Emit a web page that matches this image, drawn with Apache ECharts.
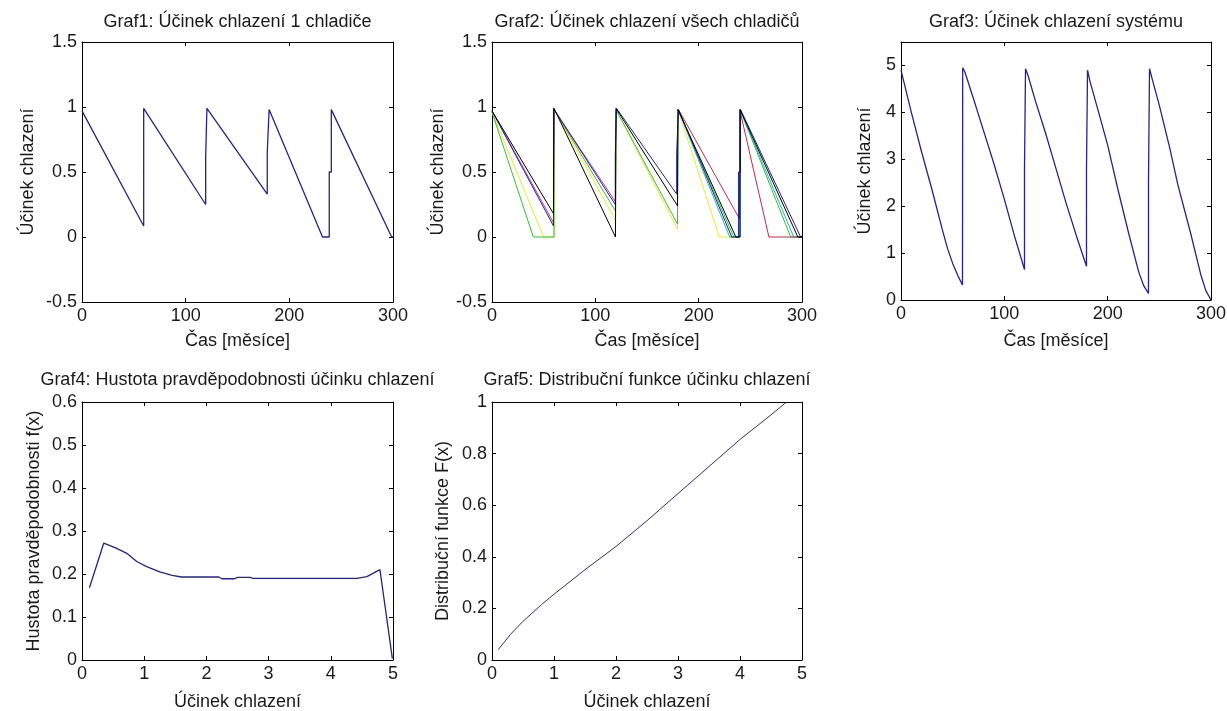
<!DOCTYPE html>
<html>
<head>
<meta charset="utf-8">
<title>Účinek chlazení</title>
<script src="https://cdn.jsdelivr.net/npm/echarts@6/dist/echarts.min.js"></script>
<style>
    html, body { margin: 0; padding: 0; background: #fff; }
    #chart { width: 1227px; height: 711px; }
</style>
</head>
<body>
<div id="chart"></div>
<script>
// Graf1: účinek chlazení 1 chladiče  [čas, účinek]
const graf1Points = [
    [0, 0.97], [59.5, 0.085], [59.5, 0.99], [60, 0.99], [119.3, 0.25], [119.3, 0.62],
    [120.5, 0.62], [120.5, 0.99], [178.7, 0.33], [178.7, 0.65], [180.5, 0.65],
    [180.5, 0.98], [232, 0], [238.5, 0], [238.5, 0.5], [240.5, 0.5], [240.5, 0.98],
    [298.7, 0], [300, 0]
];

// Graf2: účinek všech chladičů, jedna řada na barvu
const graf2Yellow = [
    [0, 0.96], [50, 0], [60, 0], [60, 0.98], [119.5, 0.13], [120, 0.13], [120, 0.98],
    [179.5, 0.06], [180, 0.06], [180, 0.98], [220, 0], [240, 0]
];
const graf2Green = [
    [0, 0.96], [40, 0], [60, 0], [60, 0.98], [119.5, 0.2], [120, 0.2], [120, 0.98],
    [179.5, 0.1], [180, 0.1], [180, 0.98], [234, 0], [240, 0], [240, 0.98], [289, 0], [300, 0]
];
const graf2Cyan = [
    [180, 0.98], [230, 0], [240, 0], [240, 0.98], [292, 0], [300, 0]
];
const graf2Red = [
    [180.5, 0.98], [239.5, 0.14], [240, 0.14], [240, 0.97], [268, 0], [300, 0]
];
const graf2Magenta = [
    [0, 0.97], [59.5, 0.11], [60, 0.11], [60, 0.98], [119.5, 0.27], [120, 0.27]
];
const graf2Black = [
    [0, 0.97], [59.5, 0.18], [60, 0.18], [60, 0.99], [119.5, 0], [120, 0], [120, 0.99],
    [179.5, 0.24], [180, 0.24], [180, 0.98], [236, 0], [240, 0], [240, 0.98], [296, 0], [300, 0]
];

// Graf3: účinek chlazení systému
const graf3Points = [
    [0, 4.9], [10, 4.0], [20, 3.15], [30, 2.35], [40, 1.5], [45, 1.1], [50, 0.78],
    [55, 0.52], [59.5, 0.32], [59.7, 4.95], [62, 4.85], [70, 4.3], [80, 3.6], [90, 2.9],
    [100, 2.15], [110, 1.35], [119.5, 0.65], [119.5, 2.8], [120.5, 2.8], [120.5, 4.93],
    [123, 4.78], [130, 4.25], [140, 3.55], [150, 2.8], [160, 2.05], [170, 1.35],
    [179.5, 0.72], [179.5, 2.8], [180.5, 2.8], [180.5, 4.9], [183, 4.65], [190, 4.1],
    [200, 3.3], [210, 2.35], [220, 1.45], [230, 0.6], [235, 0.3], [239.5, 0.14],
    [239.5, 2.53], [240.5, 2.53], [240.5, 4.93], [243, 4.72], [250, 4.15], [260, 3.25],
    [268, 2.45], [280, 1.45], [290, 0.55], [295, 0.2], [300, 0]
];

// Graf4: hustota pravděpodobnosti f(x)
const graf4Points = [
    [0.12, 0.168], [0.35, 0.272], [0.55, 0.26], [0.72, 0.248], [0.88, 0.229], [1.04, 0.217],
    [1.25, 0.205], [1.45, 0.197], [1.6, 0.193], [2.2, 0.193], [2.25, 0.189], [2.45, 0.189],
    [2.5, 0.192], [2.7, 0.192], [2.75, 0.19], [4.42, 0.19], [4.58, 0.194], [4.79, 0.21],
    [4.99, 0.003]
];

// Graf5: distribuční funkce F(x)
const graf5Points = [
    [0.1, 0.04], [0.3, 0.1], [0.5, 0.15], [0.8, 0.215], [1.0, 0.255], [1.5, 0.35],
    [2.0, 0.44], [2.5, 0.54], [3.0, 0.645], [3.5, 0.75], [4.0, 0.855], [4.5, 0.95], [4.75, 1.0]
];

// rozsahy os [min, max, krok]
const casAxis = [0, 300, 100];
const ucinekAxis = [-0.5, 1.5, 0.5];
const systemAxis = [0, 5.5, 1];
const xAxis45 = [0, 5, 1];
const hustotaAxis = [0, 0.6, 0.1];
const distribAxis = [0, 1, 0.2];

const FONT = '"Liberation Sans", Arial, sans-serif';
const TEXT = '#1a1a1a';

const chart = echarts.init(document.getElementById('chart'), null, { renderer: 'canvas' });

function makeAxis(grid, pos, range, name, gap, extra) {
    const main = pos === 'bottom' || pos === 'left';
    return Object.assign({
        type: 'value',
        gridIndex: grid,
        position: pos,
        min: range[0],
        max: range[1],
        interval: range[2],
        name: main ? name : '',
        nameLocation: 'middle',
        nameGap: gap,
        nameMoveOverlap: false,
        nameTextStyle: { fontFamily: FONT, fontSize: 18, color: TEXT },
        axisLine: { show: true, onZero: false, lineStyle: { color: '#000', width: 1 } },
        axisTick: { show: true, inside: true, length: 4, lineStyle: { color: '#000', width: 1 } },
        axisLabel: {
            show: main,
            margin: 5,
            fontFamily: FONT,
            fontSize: 18,
            color: TEXT,
            showMinLabel: true,
            showMaxLabel: true,
            hideOverlap: false
        },
        splitLine: { show: false }
    }, extra || {});
}

function title(text, x, y) {
    return {
        text: text,
        left: x,
        top: y,
        textAlign: 'center',
        padding: 0,
        textStyle: { fontFamily: FONT, fontSize: 18, fontWeight: 'normal', color: TEXT }
    };
}

function line(points, grid, color, width) {
    return {
        type: 'line',
        xAxisIndex: grid,
        yAxisIndex: grid,
        data: points,
        symbol: 'none',
        showSymbol: false,
        clip: true,
        lineStyle: { color: color, width: width },
        itemStyle: { color: color },
        emphasis: { disabled: true },
        animation: false
    };
}

const option = {
    backgroundColor: '#fff',
    animation: false,
    title: [
        title('Graf1: Účinek chlazení 1 chladiče', 237.5, 13),
        title('Graf2: Účinek chlazení všech chladičů', 647, 13),
        title('Graf3: Účinek chlazení systému', 1056, 13),
        title('Graf4: Hustota pravděpodobnosti účinku chlazení', 237.5, 371),
        title('Graf5: Distribuční funkce účinku chlazení', 647, 371)
    ],
    grid: [
        { left: 82, top: 42, width: 311, height: 260, containLabel: false, outerBoundsMode: 'none' },
        { left: 492, top: 42, width: 310, height: 260, containLabel: false, outerBoundsMode: 'none' },
        { left: 901, top: 42, width: 310, height: 258, containLabel: false, outerBoundsMode: 'none' },
        { left: 82, top: 402, width: 311, height: 258, containLabel: false, outerBoundsMode: 'none' },
        { left: 492, top: 402, width: 310, height: 258, containLabel: false, outerBoundsMode: 'none' }
    ],
    xAxis: [
        makeAxis(0, 'bottom', casAxis, 'Čas [měsíce]', 30),
        makeAxis(1, 'bottom', casAxis, 'Čas [měsíce]', 30),
        makeAxis(2, 'bottom', casAxis, 'Čas [měsíce]', 32),
        makeAxis(3, 'bottom', xAxis45, 'Účinek chlazení', 33),
        makeAxis(4, 'bottom', xAxis45, 'Účinek chlazení', 33),
        makeAxis(0, 'top', casAxis),
        makeAxis(1, 'top', casAxis),
        makeAxis(2, 'top', casAxis),
        makeAxis(3, 'top', xAxis45),
        makeAxis(4, 'top', xAxis45)
    ],
    yAxis: [
        makeAxis(0, 'left', ucinekAxis, 'Účinek chlazení', 45),
        makeAxis(1, 'left', ucinekAxis, 'Účinek chlazení', 45),
        makeAxis(2, 'left', systemAxis, 'Účinek chlazení', 27, {
            axisLabel: { show: true, margin: 5, fontFamily: FONT, fontSize: 18, color: TEXT, showMinLabel: true, showMaxLabel: false }
        }),
        makeAxis(3, 'left', hustotaAxis, 'Hustota pravděpodobnosti f(x)', 39),
        makeAxis(4, 'left', distribAxis, 'Distribuční funkce F(x)', 40),
        makeAxis(0, 'right', ucinekAxis),
        makeAxis(1, 'right', ucinekAxis),
        makeAxis(2, 'right', systemAxis),
        makeAxis(3, 'right', hustotaAxis),
        makeAxis(4, 'right', distribAxis)
    ],
    series: [
        line(graf1Points, 0, '#23238f', 1.3),

        line(graf2Yellow, 1, '#eeea2a', 1),
        line(graf2Green, 1, '#2fc42f', 1),
        line(graf2Cyan, 1, '#22b8c8', 1),
        line(graf2Red, 1, '#c8284a', 1),
        line(graf2Magenta, 1, '#c030c0', 1),
        line(graf1Points, 1, '#23238f', 1),
        line(graf2Black, 1, '#000000', 1),

        line(graf3Points, 2, '#23238f', 1.3),
        line(graf4Points, 3, '#23238f', 1.3),
        line(graf5Points, 4, '#2e2e80', 1)
    ]
};

chart.setOption(option);
</script>
</body>
</html>
